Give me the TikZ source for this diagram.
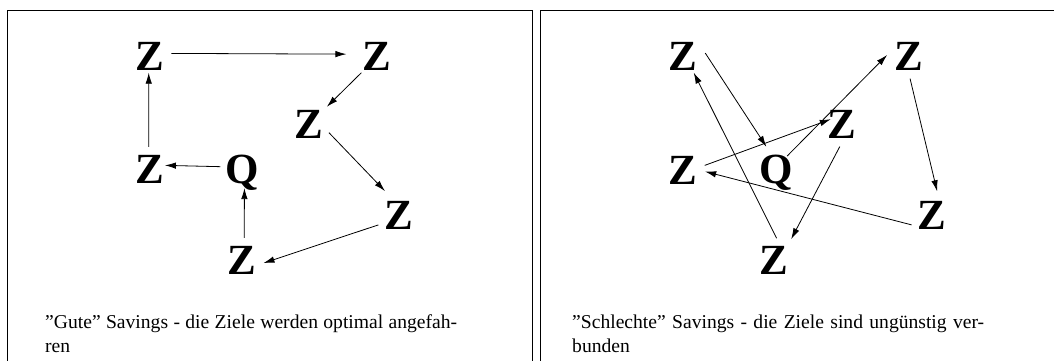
\documentclass[tikz,border=0pt]{standalone}
\usepackage{fontspec}
\setmainfont{Liberation Serif}
\usetikzlibrary{arrows.meta}
\newcommand\zielfont{\fontsize{43}{43}\selectfont\bfseries}
\newcommand\unterschriftfont{\fontsize{19.6}{24}\selectfont}
\tikzset{
  ziel/.style={circle, minimum size=44pt, inner sep=0pt, text depth=0pt,
               font=\zielfont},
  tour/.style={-{Latex[length=11pt,width=6.5pt]}, line width=0.8pt},
  rahmen/.style={line width=1pt},
  unterschrift/.style={text width=412pt, align=justify, inner sep=0pt,
                       anchor=base west, font=\unterschriftfont},
}

\begin{document}
\begin{tikzpicture}[x=1pt, y=-1pt]
    \useasboundingbox (0,0) rectangle (1054,361);
    \clip (0,0) rectangle (1054,361);
    % Rahmen
    \draw[rahmen] (7,400) -- (7,11) -- (532,11) -- (532,400);
    \draw[rahmen] (540,400) -- (540,11) -- (1100,11);

    % gute Savings
    \node[ziel] (g1) at (149.5, 56.5) {Z};
    \node[ziel] (g2) at (376.5, 56.5) {Z};
    \node[ziel] (g3) at (308.5, 124) {Z};
    \node[ziel] (g4) at (398.5, 215.5) {Z};
    \node[ziel] (g5) at (241.5, 260) {Z};
    \node[ziel] (gq) at (242.5, 169) {Q};
    \node[ziel] (g6) at (150, 169) {Z};
    \draw[tour, shorten >=8pt] (g1.8) -- (g2.174);
    \draw[tour, shorten >=3pt] (g2.-133) -- (g3.43);
    \draw[tour, shorten >=6pt] (g3.-23) -- (g4.115);
    \draw[tour] (g4.-155) -- (g5.-8);
    \draw[tour, shorten >=-3pt] (g5.83) -- (gq.-85);
    \draw[tour, shorten >=-7pt] (gq.174) -- (g6.9);
    \draw[tour, shorten >=-6pt] (g6.93) -- (g1.-92);
    \node[unterschrift] (gtext) at (45, 328)
      {”Gute” Savings - die Ziele werden optimal angefah-\linebreak ren};

    % schlechte Savings
    \node[ziel] (s1) at (683.3, 56.5) {Z};
    \node[ziel] (s2) at (909.3, 56.5) {Z};
    \node[ziel] (s3) at (841.7, 124.5) {Z};
    \node[ziel] (s4) at (931.7, 215.5) {Z};
    \node[ziel] (s5) at (774.3, 260.3) {Z};
    \node[ziel] (sq) at (775.8, 169) {Q};
    \node[ziel] (s6) at (683, 170) {Z};
    \draw[tour, shorten >=2pt] (s1.9) -- (sq.112);
    \draw[tour, shorten <=-5pt] (sq.48) -- (s2.176);
    \draw[tour, shorten >=3pt] (s2.-88) -- (s4.74);
    \draw[tour] (s4.-155) -- (s6.-4);
    \draw[tour, shorten >=-12pt] (s6.12) -- (s3.177);
    \draw[tour, shorten >=5pt] (s3.-95) -- (s5.49);
    \draw[tour, shorten >=-3pt] (s5.84) -- (s1.-58);
    \node[unterschrift] (stext) at (572, 328)
      {”Schlechte” Savings - die Ziele sind ungünstig ver-\linebreak bunden};
  \end{tikzpicture}
\end{document}
